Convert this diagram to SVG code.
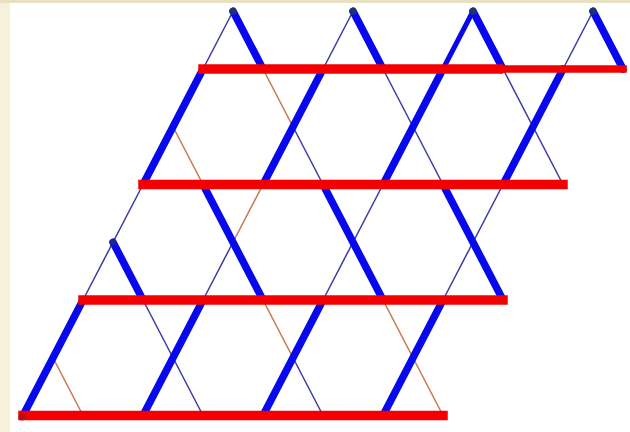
<svg xmlns="http://www.w3.org/2000/svg" width="630" height="432" viewBox="0 0 630 432">
<style>
.tb{stroke:#3c3ca6;stroke-width:1.5;fill:none}
.tr{stroke:#c8764e;stroke-width:1.5;fill:none}
.tk{stroke:#0808ee;stroke-width:7.5;stroke-linecap:round;fill:none}
.md{stroke:#0808ee;stroke-width:5;stroke-linecap:round;fill:none}
.bar{stroke:#f20000;stroke-width:9.5;stroke-linecap:square;fill:none}
.dot{fill:#1e3370}
</style>
<rect x="0" y="0" width="630" height="432" fill="#f6f1db"/>
<rect x="0" y="0" width="630" height="3" fill="#e7e0c3"/>
<rect x="10" y="3" width="620" height="429" fill="#ffffff"/>
<g id="connectors">
  <g id="thin">
    <path class="tb" d="M233,11.25 L203,69 M143,184.5 L83,300"/>
    <path class="tb" d="M353,11.25 L323,69 M233,242.25 L203,300"/>
    <path class="tr" d="M263,184.5 L233,242.25"/>
    <path class="tb" d="M383,184.5 L323,300"/>
    <path class="tb" d="M593,11.25 L563,69 M503,184.5 L443,300"/>
    <path class="tr" d="M263,69 L293,126.75"/>
    <path class="tb" d="M293,126.75 L323,184.5"/>
    <path class="tr" d="M383,300 L443,415.5"/>
    <path class="tb" d="M383,69 L443,184.5"/>
    <path class="tb" d="M503,69 L563,184.5"/>
    <path class="tr" d="M173,126.75 L203,184.5 M263,300 L293,357.75"/>
    <path class="tb" d="M293,357.75 L323,415.5"/>
    <path class="tb" d="M143,300 L203,415.5"/>
    <path class="tr" d="M53,357.75 L83,415.5"/>
  </g>
  <g id="thick">
    <path class="tk" d="M203,69 L143,184.5 M83,300 L23,415.5"/>
    <path class="tk" d="M323,69 L263,184.5 M203,300 L143,415.5"/>
    <path class="md" d="M473,11.25 L443,69"/>
    <path class="tk" d="M443,69 L383,184.5 M323,300 L263,415.5"/>
    <path class="tk" d="M563,69 L503,184.5 M443,300 L383,415.5"/>
    <path class="tk" d="M233,11.25 L263,69 M323,184.5 L383,300"/>
    <path class="tk" d="M353,11.25 L383,69 M443,184.5 L503,300"/>
    <path class="tk" d="M473,11.25 L503,69"/>
    <path class="tk" d="M593,11.25 L623,69"/>
    <path class="tk" d="M203,184.5 L263,300"/>
    <path class="tk" d="M113,242.25 L143,300"/>
  </g>
  <g id="bars">
    <path class="bar" style="stroke-linecap:butt" d="M198.25,69 L503,69"/>
    <path class="bar" style="stroke-width:7.5;stroke-linecap:butt" d="M503,69 L626.75,69"/>
    <path class="bar" d="M143,184.5 L563,184.5"/>
    <path class="bar" d="M83,300 L503,300"/>
    <path class="bar" d="M23,415.5 L443,415.5"/>
  </g>
</g>
<g id="node-a1"><circle class="dot" cx="233" cy="11.25" r="3.6"/></g>
<g id="node-a2"><circle class="dot" cx="353" cy="11.25" r="3.6"/></g>
<g id="node-a3"><circle class="dot" cx="473" cy="11.25" r="3.6"/></g>
<g id="node-a4"><circle class="dot" cx="593" cy="11.25" r="3.6"/></g>
<g id="node-b1"><circle cx="113" cy="242.25" r="3.2" fill="#1a2a8a"/></g>
<g id="node-c1"><circle cx="22" cy="417" r="3.5" fill="#b81010"/></g>
</svg>
